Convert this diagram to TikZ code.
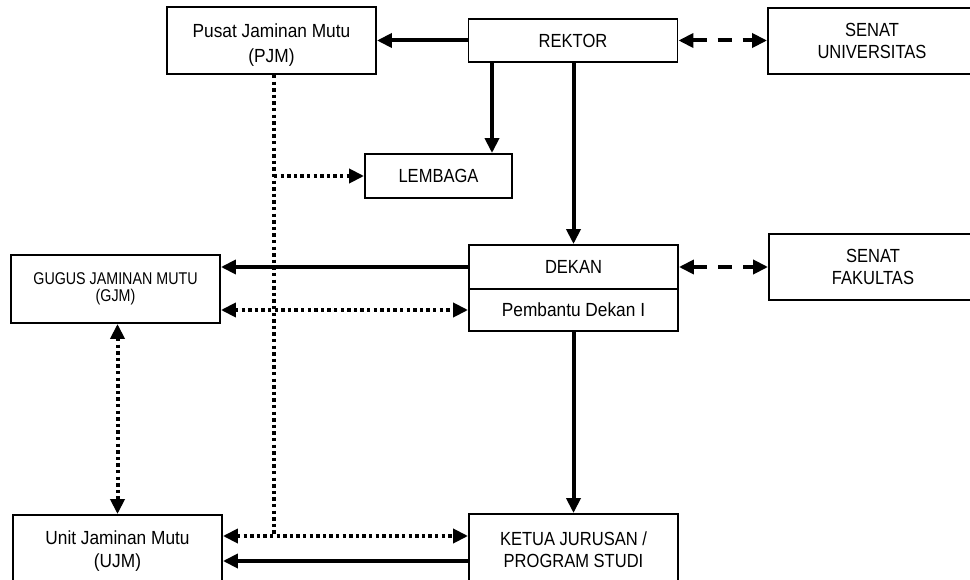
\documentclass[tikz,border=0pt]{standalone}
\usepackage{fontspec}
\usetikzlibrary{arrows.meta,calc}
\newfontfamily\nfont[FakeStretch=0.87]{Liberation Sans}
\newfontfamily\mfont[FakeStretch=0.91]{Liberation Sans}
\newfontfamily\gfont[FakeStretch=0.84]{Liberation Sans}
\tikzset{
  box/.style={draw, line width=1.9pt, rectangle, inner sep=0pt, align=center,
    minimum width=209pt, font=\nfont\fontsize{19}{22}\selectfont},
  tip/.tip={Triangle[length=15pt,width=14pt]},
  solidarr/.style={line width=4pt, -tip},
  dotln/.style={line width=4pt, dash pattern=on 3.4pt off 3.2pt},
  dotarr/.style={dotln, -tip},
  dotdbl/.style={dotln, tip-tip},
  dashdbl/.style={line width=4pt, dash pattern=on 14pt off 11pt, tip-tip}
}
\begin{document}
\begin{tikzpicture}[x=1pt,y=-1pt]
\useasboundingbox (0,0) rectangle (970,580);
\clip (0,0) rectangle (970,580);
\fill[white] (0,0) rectangle (970,580);
% nodes
\node[box, minimum height=67pt, font=\mfont\fontsize{19}{22}\selectfont] (pjm) at (271.5,40.5)
  {\raisebox{-5pt}[\height][\depth]{\begin{tabular}{@{}c@{}}Pusat Jaminan Mutu\\[3.5pt](PJM)\end{tabular}}};
\node[box, minimum height=43pt] (rektor) at (573,40.5) {REKTOR};
\node[box, minimum height=66pt, minimum width=208pt] (senatu) at (872,41) {SENAT\\UNIVERSITAS};
\node[box, minimum height=44pt, minimum width=147pt] (lembaga) at (438.5,176) {LEMBAGA};
\node[box, minimum height=44pt] (dekan) at (573.5,267) {DEKAN};
\node[box, minimum height=42pt, font=\mfont\fontsize{19}{22}\selectfont] (pd) at (573.5,310) {Pembantu Dekan I};
\node[box, minimum height=66pt, minimum width=208pt] (senatf) at (873,267) {SENAT\\FAKULTAS};
\node[box, minimum height=68pt, font=\gfont\fontsize{17}{17}\selectfont] (gjm) at (115.5,289) {GUGUS JAMINAN MUTU\\(GJM)};
\node[box, minimum height=73pt, font=\mfont\fontsize{19}{23}\selectfont] (ujm) at (117.5,551.5) {Unit Jaminan Mutu\\(UJM)};
\node[box, minimum height=71pt] (ketua) at (573.5,549.5) {KETUA JURUSAN /\\PROGRAM STUDI};
% helper coordinates
\coordinate (rl) at (492,0);
\coordinate (pjx) at (274,0);
\coordinate (ud) at (0,536);
\coordinate (us) at (0,561);
% connectors
\draw[solidarr] (rektor.west) -- (rektor.west -| pjm.east);
\draw[dashdbl] (rektor.east) -- (rektor.east -| senatu.west);
\draw[solidarr] (rektor.south -| rl) -- (rl |- lembaga.north);
\draw[solidarr] (rektor.south -| dekan.north) -- (dekan.north);
\draw[dotln] (pjm.south -| pjx) -- (pjx |- ud);
\draw[dotarr] (pjx |- lembaga.west) -- (lembaga.west);
\draw[solidarr] (dekan.west) -- (dekan.west -| gjm.east);
\draw[dashdbl] (dekan.east) -- (dekan.east -| senatf.west);
\draw[dotdbl] (pd.west -| gjm.east) -- (pd.west);
\draw[dotdbl] (ujm.north |- gjm.south) -- (ujm.north);
\draw[solidarr] (pd.south) -- (ketua.north);
\draw[dotdbl] (ujm.east |- ud) -- (ketua.west |- ud);
\draw[solidarr] (ketua.west |- us) -- (ujm.east |- us);
\end{tikzpicture}
\end{document}
